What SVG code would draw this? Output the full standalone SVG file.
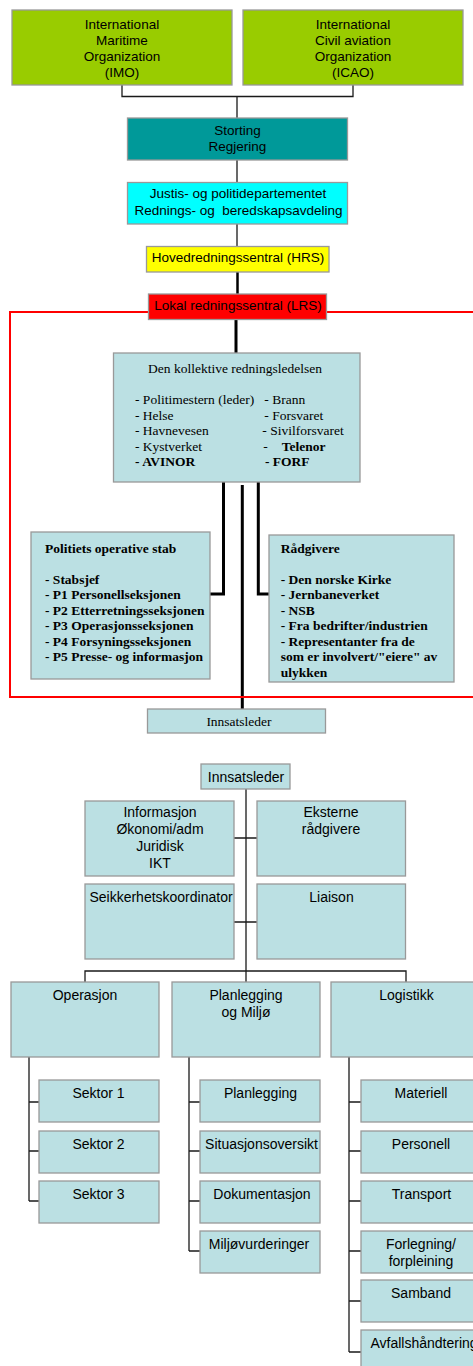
<svg xmlns="http://www.w3.org/2000/svg" width="473" height="1366" viewBox="0 0 473 1366">
<style>
.box{stroke:#999999;stroke-width:1.3}
.lb{fill:#BBE0E3}
.s{font-family:"Liberation Sans",Arial,sans-serif;font-size:13.5px;fill:#000;text-anchor:middle}
.s14{font-family:"Liberation Sans",Arial,sans-serif;font-size:14px;fill:#000;text-anchor:middle}
.t{font-family:"Liberation Serif","Times New Roman",serif;font-size:13.5px;fill:#000}
.b{font-weight:bold}
.ln{fill:none;stroke:#1a1a1a;stroke-width:1.3}
.th{fill:none;stroke:#000;stroke-width:3}
</style>
<rect width="473" height="1366" fill="#fff"/>
<g id="connectors">
<path class="ln" d="M122,85 V96.5 H353 V85 M237,96.5 V118 M237,160 V182 M237,224 V246"/>
<path class="th" d="M237.5,272 V294" style="stroke-width:2.5"/>
<path class="th" d="M236,319 V353"/>
<path class="th" d="M223.5,482 V594 H210 M242.3,485 V709 M258.3,482 V594 H269"/>
<path class="ln" d="M246,789 V982 M234,838 H257 M234,922 H257 M85,982 V971 H406 V982"/>
<path class="ln" d="M29,1057 V1201 M29,1102 H39 M29,1151 H39 M29,1201 H39"/>
<path class="ln" d="M189,1057 V1251 M189,1102 H200 M189,1151 H200 M189,1201 H200 M189,1251 H200"/>
<path class="ln" d="M349,1057 V1352 M349,1102 H361 M349,1151 H361 M349,1201 H361 M349,1251 H361 M349,1301 H361 M349,1352 H361"/>
</g>
<g id="frame">
<rect x="10" y="312" width="480" height="385" fill="none" stroke="#FF0000" stroke-width="2"/>
</g>
<g id="imo">
<rect class="box" x="12" y="10" width="220" height="75" fill="#99CC00"/>
<text class="s" x="122" y="29">International</text>
<text class="s" x="122" y="45">Maritime</text>
<text class="s" x="122" y="61">Organization</text>
<text class="s" x="122" y="77">(IMO)</text>
</g>
<g id="icao">
<rect class="box" x="243" y="10" width="220" height="75" fill="#99CC00"/>
<text class="s" x="353" y="29">International</text>
<text class="s" x="353" y="45">Civil aviation</text>
<text class="s" x="353" y="61">Organization</text>
<text class="s" x="353" y="77">(ICAO)</text>
</g>
<g id="storting">
<rect class="box" x="127.5" y="118" width="220" height="42" fill="#009999"/>
<text class="s" x="237.5" y="134.5">Storting</text>
<text class="s" x="237.5" y="151">Regjering</text>
</g>
<g id="justis">
<rect class="box" x="127.5" y="182.5" width="220" height="41.5" fill="#00FFFF"/>
<text class="s" x="238" y="197.5">Justis- og politidepartementet</text>
<text class="s" x="238.5" y="214.5" xml:space="preserve">Rednings- og  beredskapsavdeling</text>
</g>
<g id="hrs">
<rect class="box" x="146.5" y="246.5" width="182.5" height="25.5" fill="#FFFF00"/>
<text class="s" x="238" y="262">Hovedredningssentral (HRS)</text>
</g>
<g id="lrs">
<rect class="box" x="148.5" y="294" width="178" height="25.5" fill="#FF0000"/>
<text class="s" x="238" y="309.5">Lokal redningssentral (LRS)</text>
</g>
<g id="kollektive">
<rect class="box lb" x="113.5" y="353" width="246.5" height="129"/>
<text class="t" x="235" y="373" text-anchor="middle">Den kollektive redningsledelsen</text>
<text class="t" x="135" y="404">- Politimestern (leder)</text>
<text class="t" x="135" y="419.5">- Helse</text>
<text class="t" x="135" y="435">- Havnevesen</text>
<text class="t" x="135" y="450.5">- Kystverket</text>
<text class="t b" x="135" y="466">- AVINOR</text>
<text class="t" x="264.3" y="404">- Brann</text>
<text class="t" x="264.3" y="419.5">- Forsvaret</text>
<text class="t" x="262.3" y="435">- Sivilforsvaret</text>
<text class="t" x="263.3" y="450.5">-</text>
<text class="t b" x="281.7" y="450.5">Telenor</text>
<text class="t b" x="265" y="466">- FORF</text>
</g>
<g id="politiets">
<rect class="box lb" x="31" y="532" width="179" height="147"/>
<text class="t b" x="45" y="553">Politiets operative stab</text>
<text class="t b" x="45" y="583.5">- Stabsjef</text>
<text class="t b" x="45" y="599">- P1 Personellseksjonen</text>
<text class="t b" x="45" y="614.5">- P2 Etterretningsseksjonen</text>
<text class="t b" x="45" y="630">- P3 Operasjonsseksjonen</text>
<text class="t b" x="45" y="645.5">- P4 Forsyningsseksjonen</text>
<text class="t b" x="45" y="661">- P5 Presse- og informasjon</text>
</g>
<g id="radgivere">
<rect class="box lb" x="269" y="535" width="185" height="147"/>
<text class="t b" x="280.7" y="553">Rådgivere</text>
<text class="t b" x="280.7" y="583.5">- Den norske Kirke</text>
<text class="t b" x="280.7" y="599">- Jernbaneverket</text>
<text class="t b" x="280.7" y="614.5">- NSB</text>
<text class="t b" x="280.7" y="630">- Fra bedrifter/industrien</text>
<text class="t b" x="280.7" y="645.5">- Representanter fra de</text>
<text class="t b" x="280.7" y="661">som er involvert/"eiere" av</text>
<text class="t b" x="280.7" y="676.5">ulykken</text>
</g>
<g id="innsatsleder1">
<rect class="box lb" x="147.5" y="709" width="178" height="24"/>
<text class="t" x="239" y="726" text-anchor="middle">Innsatsleder</text>
</g>
<g id="innsatsleder2">
<rect class="box lb" x="201" y="764" width="89" height="25"/>
<text class="s14" x="246" y="782">Innsatsleder</text>
</g>
<g id="informasjon">
<rect class="box lb" x="85" y="801" width="149" height="75"/>
<text class="s14" x="160" y="817">Informasjon</text>
<text class="s14" x="160" y="834">Økonomi/adm</text>
<text class="s14" x="160" y="851">Juridisk</text>
<text class="s14" x="160" y="868">IKT</text>
</g>
<g id="eksterne">
<rect class="box lb" x="257" y="801" width="148.5" height="75"/>
<text class="s14" x="331" y="817">Eksterne</text>
<text class="s14" x="331" y="834">rådgivere</text>
</g>
<g id="seikkerhet">
<rect class="box lb" x="85" y="884" width="149" height="75"/>
<text class="s14" x="161" y="901.5">Seikkerhetskoordinator</text>
</g>
<g id="liaison">
<rect class="box lb" x="257" y="884" width="148.5" height="75"/>
<text class="s14" x="331.5" y="901.5">Liaison</text>
</g>
<g id="operasjon">
<rect class="box lb" x="11" y="982" width="148" height="75"/>
<text class="s14" x="85" y="999.5">Operasjon</text>
</g>
<g id="planlegging">
<rect class="box lb" x="172" y="982" width="148" height="75"/>
<text class="s14" x="246" y="999.5">Planlegging</text>
<text class="s14" x="246" y="1016.5">og Miljø</text>
</g>
<g id="logistikk">
<rect class="box lb" x="331" y="982" width="148" height="75"/>
<text class="s14" x="406.5" y="999.5">Logistikk</text>
</g>
<g id="sektor1">
<rect class="box lb" x="39" y="1080" width="120" height="42"/>
<text class="s14" x="98.5" y="1097.5">Sektor 1</text>
</g>
<g id="sektor2">
<rect class="box lb" x="39" y="1131" width="120" height="42"/>
<text class="s14" x="98.5" y="1148.5">Sektor 2</text>
</g>
<g id="sektor3">
<rect class="box lb" x="39" y="1181" width="120" height="42"/>
<text class="s14" x="98.5" y="1198.5">Sektor 3</text>
</g>
<g id="planlegging-sub">
<rect class="box lb" x="200" y="1080" width="120" height="42"/>
<text class="s14" x="260.5" y="1097.5">Planlegging</text>
</g>
<g id="situasjonsoversikt">
<rect class="box lb" x="200" y="1131" width="120" height="42"/>
<text class="s14" x="261.5" y="1148.5">Situasjonsoversikt</text>
</g>
<g id="dokumentasjon">
<rect class="box lb" x="200" y="1181" width="120" height="42"/>
<text class="s14" x="262" y="1198.5">Dokumentasjon</text>
</g>
<g id="miljovurderinger">
<rect class="box lb" x="200" y="1231" width="120" height="42"/>
<text class="s14" x="259" y="1248.5">Miljøvurderinger</text>
</g>
<g id="materiell">
<rect class="box lb" x="361" y="1080" width="120" height="42"/>
<text class="s14" x="421" y="1097.5">Materiell</text>
</g>
<g id="personell">
<rect class="box lb" x="361" y="1131" width="120" height="42"/>
<text class="s14" x="421" y="1148.5">Personell</text>
</g>
<g id="transport">
<rect class="box lb" x="361" y="1181" width="120" height="42"/>
<text class="s14" x="421.5" y="1198.5">Transport</text>
</g>
<g id="forlegning">
<rect class="box lb" x="361" y="1231" width="120" height="42"/>
<text class="s14" x="421" y="1248.5">Forlegning/</text>
<text class="s14" x="421" y="1265.5">forpleining</text>
</g>
<g id="samband">
<rect class="box lb" x="361" y="1280" width="120" height="42"/>
<text class="s14" x="421" y="1297.5">Samband</text>
</g>
<g id="avfall">
<rect class="box lb" x="361" y="1330" width="120" height="42"/>
<text class="s14" x="424" y="1347.5">Avfallshåndtering</text>
</g>
</svg>
